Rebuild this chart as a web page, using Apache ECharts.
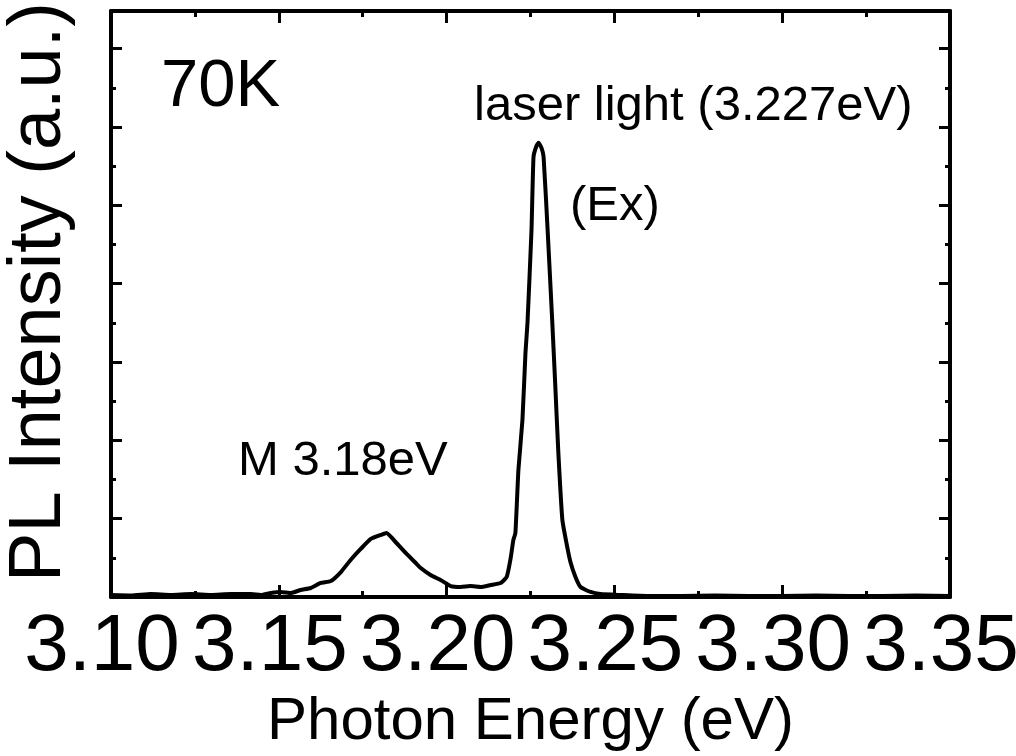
<!DOCTYPE html>
<html>
<head>
<meta charset="utf-8">
<script src="https://cdn.jsdelivr.net/npm/echarts@6/dist/echarts.min.js"></script>
<style>
html,body{margin:0;padding:0;background:#fff;}
#chart{width:1016px;height:756px;}
</style>
</head>
<body>
<div id="chart"></div>
<script>
// Photon energy (eV)
const energy = [3.1000,3.1060,3.1119,3.1179,3.1238,3.1298,3.1357,3.1417,3.1446,3.1476,3.1506,3.1536,3.1565,3.1595,3.1625,3.1655,3.1685,3.1714,3.1744,3.1774,3.1804,3.1821,3.1848,3.1878,3.1908,3.1923,3.1952,3.1982,3.2012,3.2042,3.2071,3.2101,3.2131,3.2161,3.2179,3.2190,3.2199,3.2205,3.2214,3.2226,3.2235,3.2241,3.2253,3.2259,3.2268,3.2274,3.2283,3.2289,3.2301,3.2315,3.2324,3.2333,3.2345,3.2360,3.2369,3.2384,3.2399,3.2429,3.2458,3.2518,3.2600,3.2700,3.2800,3.2900,3.3000,3.3100,3.3200,3.3300,3.3400,3.3500];
// PL intensity (a.u.)
const intensity = [0.026,0.020,0.038,0.026,0.038,0.026,0.038,0.038,0.026,0.051,0.064,0.051,0.089,0.115,0.179,0.204,0.319,0.473,0.613,0.741,0.792,0.817,0.702,0.562,0.434,0.370,0.281,0.217,0.140,0.128,0.140,0.128,0.153,0.179,0.255,0.473,0.728,0.817,1.622,2.261,3.116,3.499,4.687,5.619,5.760,5.798,5.730,5.619,4.687,3.499,2.682,1.839,0.983,0.626,0.447,0.255,0.128,0.064,0.038,0.026,0.013,0.013,0.020,0.013,0.013,0.020,0.013,0.013,0.020,0.013];
const xTicks = ['3.10','3.15','3.20','3.25','3.30','3.35'];
const labels = ['70K','laser light (3.227eV)','(Ex)','M 3.18eV'];
const xTitle = 'Photon Energy (eV)';
const yTitle = 'PL Intensity (a.u.)';

const FONT = "'Liberation Sans', Arial, sans-serif";
const chart = echarts.init(document.getElementById('chart'), null, {renderer:'canvas'});
const yMax = 7.48;
const lineStyle = {color:'#000', width:4};
function yAx(pos, interval, len, show) {
  return {type:'value', position:pos, min:0, max:yMax, interval:interval,
    axisLine:{show:show, lineStyle:lineStyle},
    axisTick:{show:true, inside:true, length:len, lineStyle:{color:'#000', width:3}},
    axisLabel:{show:false}, splitLine:{show:false}};
}
chart.setOption({
  animation:false,
  backgroundColor:'#fff',
  grid:{left:111, right:66, top:11, bottom:159, containLabel:false, outerBoundsMode:'none'},
  xAxis:[{
    type:'value', min:3.10, max:3.35, interval:0.05, position:'bottom',
    axisLine:{show:true, onZero:false, lineStyle:lineStyle},
    axisTick:{show:true, inside:true, length:12, lineStyle:{color:'#000', width:3}},
    minorTick:{show:true, splitNumber:2, length:6, lineStyle:{color:'#000', width:3}},
    axisLabel:{show:true, color:'#000', fontFamily:FONT, fontSize:80, margin:11, padding:[0,18,0,0],
      formatter:(v)=>{const i=Math.round((v-3.10)/0.05); return xTicks[i]!==undefined?xTicks[i]:'';}},
    splitLine:{show:false},
    name:xTitle, nameLocation:'middle', nameGap:78,
    nameTextStyle:{color:'#000', fontFamily:FONT, fontSize:60}
  },{
    type:'value', min:3.10, max:3.35, interval:0.05, position:'top',
    axisLine:{show:true, onZero:false, lineStyle:lineStyle},
    axisTick:{show:true, inside:true, length:12, lineStyle:{color:'#000', width:3}},
    minorTick:{show:true, splitNumber:2, length:6, lineStyle:{color:'#000', width:3}},
    axisLabel:{show:false}, splitLine:{show:false}
  }],
  yAxis:[
    yAx('left', 1, 11, true),
    yAx('left', 0.5, 5, false),
    yAx('right', 1, 11, true),
    yAx('right', 0.5, 5, false)
  ],
  series:[{
    type:'line', xAxisIndex:0, yAxisIndex:0,
    data: energy.map((e,i)=>[e, intensity[i]]),
    showSymbol:false, symbol:'none', smooth:0.15,
    lineStyle:{color:'#000', width:4}
  }],
  graphic:[
    {type:'text', left:161, top:54, style:{text:labels[0], fontFamily:FONT, fontSize:67, fill:'#000'}},
    {type:'text', left:474, top:82, style:{text:labels[1], fontFamily:FONT, fontSize:49, fill:'#000'}},
    {type:'text', left:570, top:182, style:{text:labels[2], fontFamily:FONT, fontSize:49, fill:'#000'}},
    {type:'text', left:238, top:437, style:{text:labels[3], fontFamily:FONT, fontSize:49, fill:'#000'}},
    {type:'text', x:40, y:292, rotation:Math.PI/2, style:{text:yTitle, fontFamily:FONT, fontSize:74, fill:'#000', align:'center', verticalAlign:'middle'}}
  ]
});
</script>
</body>
</html>
